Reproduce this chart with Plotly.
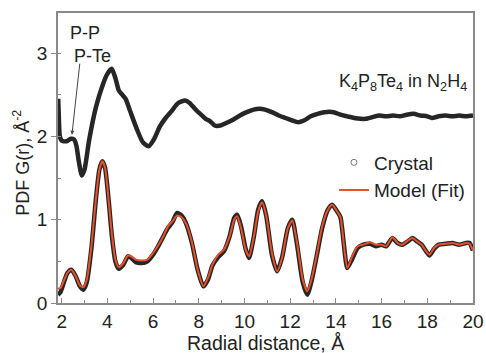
import plotly.graph_objects as go

# Upper curve (crystal, offset)
x_up = [1.85, 1.88, 1.92, 2.0, 2.2, 2.4, 2.55, 2.65, 2.75, 2.88, 3.0, 3.2, 3.5, 3.8, 4.0, 4.19,
        4.35, 4.5, 4.65, 4.8, 5.0, 5.3, 5.55, 5.8, 6.05, 6.3, 6.55, 6.8, 7.1, 7.4, 7.6, 7.9,
        8.1, 8.3, 8.5, 8.7, 8.95, 9.2, 9.5, 9.8, 10.1, 10.4, 10.65, 10.9, 11.2, 11.5, 11.8,
        12.1, 12.35, 12.6, 12.9, 13.2, 13.5, 13.9, 14.2, 14.5, 14.8, 15.1, 15.3, 15.6, 15.9,
        16.2, 16.5, 16.8, 17.1, 17.4, 17.7, 18.0, 18.2, 18.5, 18.8, 19.1, 19.4, 19.7, 20.0]
g_up = [2.45, 2.2, 2.0, 1.95, 1.94, 1.97, 1.96, 1.88, 1.7, 1.53, 1.6, 1.95, 2.35, 2.62, 2.75, 2.81,
        2.7, 2.55, 2.5, 2.45, 2.3, 2.08, 1.93, 1.88, 1.97, 2.12, 2.22, 2.3, 2.4, 2.43, 2.40, 2.31,
        2.26, 2.21, 2.18, 2.13, 2.13, 2.16, 2.2, 2.25, 2.29, 2.32, 2.33, 2.32, 2.29, 2.25, 2.22,
        2.19, 2.17, 2.19, 2.24, 2.27, 2.29, 2.29, 2.26, 2.24, 2.22, 2.21, 2.21, 2.23, 2.25,
        2.24, 2.25, 2.24, 2.26, 2.27, 2.25, 2.24, 2.22, 2.24, 2.25, 2.24, 2.25, 2.24, 2.25]

# Lower curves (crystal data and model fit)
x_low = [1.84, 1.95, 2.1, 2.25, 2.42, 2.6, 2.8, 2.95, 3.1, 3.3, 3.5, 3.65, 3.78, 3.9, 4.05, 4.2,
         4.35, 4.5, 4.7, 4.9, 5.05, 5.25, 5.5, 5.75, 6.0, 6.2, 6.45, 6.65, 6.85, 7.05, 7.25,
         7.45, 7.7, 7.95, 8.2, 8.4, 8.6, 8.85, 9.1, 9.35, 9.55, 9.68, 9.85, 10.05, 10.2, 10.4,
         10.6, 10.77, 10.95, 11.2, 11.43, 11.65, 11.9, 12.09, 12.3, 12.55, 12.75, 12.95, 13.15,
         13.4, 13.65, 13.84, 14.05, 14.2, 14.35, 14.5, 14.7, 14.95, 15.2, 15.5, 15.75, 16.0,
         16.2, 16.47, 16.7, 16.91, 17.15, 17.35, 17.55, 17.75, 17.95, 18.1, 18.3, 18.5, 18.8,
         19.1, 19.4, 19.7, 19.85, 20.0]
g_crystal = [0.10, 0.13, 0.25, 0.36, 0.40, 0.33, 0.20, 0.16, 0.25, 0.65, 1.25, 1.60, 1.70, 1.62,
             1.25, 0.80, 0.50, 0.41, 0.46, 0.56, 0.54, 0.49, 0.48, 0.50, 0.58, 0.67, 0.80, 0.90,
             0.97, 1.08, 1.05, 0.95, 0.72, 0.40, 0.20, 0.28, 0.45, 0.55, 0.62, 0.80, 1.02, 1.06,
             0.92, 0.65, 0.54, 0.78, 1.12, 1.22, 1.05, 0.58, 0.38, 0.55, 0.90, 1.00, 0.70, 0.25,
             0.10, 0.28, 0.55, 0.90, 1.12, 1.18, 1.10, 1.03, 0.70, 0.42, 0.52, 0.66, 0.70, 0.71,
             0.68, 0.70, 0.68, 0.78, 0.72, 0.70, 0.74, 0.78, 0.74, 0.70, 0.62, 0.57, 0.65, 0.70,
             0.71, 0.72, 0.70, 0.72, 0.72, 0.63]
g_model = [0.17, 0.18, 0.27, 0.36, 0.40, 0.33, 0.21, 0.19, 0.28, 0.68, 1.25, 1.60, 1.70, 1.62,
           1.25, 0.82, 0.52, 0.43, 0.48, 0.57, 0.56, 0.52, 0.51, 0.52, 0.60, 0.68, 0.80, 0.92,
           0.98, 1.05, 1.03, 0.95, 0.73, 0.40, 0.20, 0.30, 0.46, 0.58, 0.64, 0.80, 1.00, 1.04,
           0.90, 0.64, 0.56, 0.78, 1.10, 1.21, 1.05, 0.60, 0.38, 0.55, 0.90, 0.99, 0.72, 0.28,
           0.14, 0.30, 0.56, 0.92, 1.12, 1.18, 1.10, 1.03, 0.70, 0.42, 0.55, 0.68, 0.70, 0.73,
           0.70, 0.70, 0.68, 0.79, 0.72, 0.70, 0.75, 0.78, 0.74, 0.70, 0.62, 0.58, 0.66, 0.70,
           0.71, 0.72, 0.70, 0.72, 0.71, 0.63]

x_ticks = [2, 4, 6, 8, 10, 12, 14, 16, 18, 20]
y_ticks = [0, 1, 2, 3]

FONT = "Liberation Sans, Arial, sans-serif"
TXT = "#222222"
AX = "#8a8a8a"
CRYS = "#262626"
RED = "#e8502a"
FS = 18
FT = 19

fig = go.Figure()
fig.add_trace(go.Scatter(x=x_up, y=g_up, mode="lines", line=dict(color=CRYS, width=4.5, shape="spline", smoothing=0.6),
                         showlegend=False, hoverinfo="skip"))
fig.add_trace(go.Scatter(x=x_low, y=g_crystal, mode="lines", line=dict(color=CRYS, width=4.5, shape="spline", smoothing=0.6),
                         showlegend=False, hoverinfo="skip"))
fig.add_trace(go.Scatter(x=[None], y=[None], mode="markers", name="Crystal",
                         marker=dict(symbol="circle-open", color="#777777", size=6, line=dict(width=1))))
fig.add_trace(go.Scatter(x=x_low, y=g_model, mode="lines", name="Model (Fit)",
                         line=dict(color=RED, width=2, shape="spline", smoothing=0.6)))

fig.update_layout(
    width=486, height=353,
    margin=dict(l=58, r=13, t=13, b=50),
    paper_bgcolor="white", plot_bgcolor="white",
    font=dict(family=FONT, size=FS, color=TXT),
    showlegend=True,
    legend=dict(x=0.665, y=0.55, xanchor="left", yanchor="top", bgcolor="rgba(0,0,0,0)",
                font=dict(size=FT, color=TXT), tracegroupgap=0),
    xaxis=dict(range=[1.84, 20], tickvals=x_ticks, ticks="inside", ticklen=5, tickcolor=AX,
               showline=True, linecolor=AX, linewidth=1.5, mirror=True, showgrid=False, zeroline=False,
               minor=dict(dtick=1, ticks="inside", ticklen=3, tickcolor=AX), automargin=False,
               tickfont=dict(size=FT)),
    yaxis=dict(range=[0, 3.48], tickvals=y_ticks, ticks="outside", ticklen=5, tickcolor=AX,
               showline=True, linecolor=AX, linewidth=1.5, mirror=True, showgrid=False, zeroline=False,
               minor=dict(dtick=0.5, ticks="inside", ticklen=3, tickcolor=AX), automargin=False,
               tickfont=dict(size=FT)),
)

# axis titles
fig.add_annotation(x=0.5, y=-0.138, xref="paper", yref="paper", xanchor="center", yanchor="middle",
                   text="Radial distance, Å", showarrow=False, font=dict(size=19.5, color=TXT))
fig.add_annotation(x=-0.087, y=0.483, xref="paper", yref="paper", xanchor="center", yanchor="middle",
                   text="PDF G(r), Å<sup>-2</sup>", textangle=-90, showarrow=False, font=dict(size=FS, color=TXT))

fig.add_annotation(x=2.45, y=2.02, ax=2.8, ay=2.89, xref="x", yref="y", axref="x", ayref="y",
                   text="", showarrow=True, arrowhead=2, arrowsize=0.8, arrowwidth=1, arrowcolor="#444444")
fig.add_annotation(x=3.02, y=3.24, xref="x", yref="y", text="P-P", showarrow=False,
                   font=dict(size=FS, color=TXT))
fig.add_annotation(x=3.33, y=2.96, xref="x", yref="y", text="P-Te", showarrow=False,
                   font=dict(size=FS, color=TXT))
fig.add_annotation(x=19.82, y=2.65, xref="x", yref="y", xanchor="right", yanchor="middle",
                   text="K<sub>4</sub>P<sub>8</sub>Te<sub>4</sub> in N<sub>2</sub>H<sub>4</sub>",
                   showarrow=False, font=dict(size=FS, color=TXT))

fig.write_html("out.html")
